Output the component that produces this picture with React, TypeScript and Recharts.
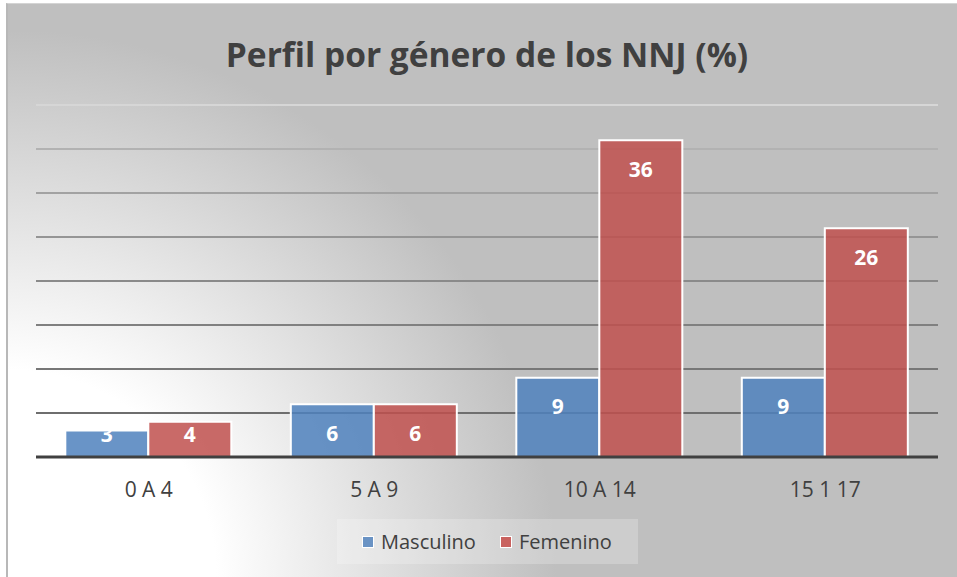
import React from 'react';
import { BarChart, Bar, XAxis, YAxis, CartesianGrid, Legend, LabelList } from 'recharts';

const categories = ['0 A 4', '5 A 9', '10 A 14', '15 1 17'];
const masculino = [3, 6, 9, 9];
const femenino = [4, 6, 36, 26];
const yTicks = [0, 5, 10, 15, 20, 25, 30, 35, 40];
const seriesNames = ['Masculino', 'Femenino'];

const data = categories.map((c, i) => ({ name: c, Masculino: masculino[i], Femenino: femenino[i] }));

const FONT = '"Open Sans", "Noto Sans", sans-serif';
const BLUE = '#4f81bd';
const RED = '#c0504d';
const BASE_Y = 454;

const gridColors: Record<number, string> = {
  0: '#d6d6d6',
  1: '#b2b2b2',
  2: '#a2a2a2',
  3: '#959595',
  4: '#8a8a8a',
  5: '#808080',
  6: '#777777',
  7: '#6e6e6e',
};

const renderGridLine = (props: any) => {
  const { x1, x2, y1, y2 } = props;
  if (Math.abs(y1 - BASE_Y) < 2) return <g key={props.key} />;
  const idx = Math.round((y1 - 102) / 44);
  const color = gridColors[idx] ?? '#888';
  return <line key={props.key} x1={x1} x2={x2} y1={y1} y2={y2} stroke={color} strokeWidth={2.2} />;
};

const renderLabel = (props: any) => {
  const { x, y, width, value } = props;
  const cy = Math.min(y + 29, BASE_Y - 23);
  return (
    <text x={x + width / 2} y={cy + 7.5} textAnchor="middle" fill="#ffffff" fontFamily={FONT} fontWeight={700} fontSize={21}>
      {value}
    </text>
  );
};

const renderTick = (props: any) => {
  const { x, y, payload } = props;
  return (
    <text x={x} y={y + 40} textAnchor="middle" fill="#404040" fontFamily={FONT} fontSize={21}>
      {payload.value}
    </text>
  );
};

const renderLegend = () => (
  <div
    style={{
      width: 301,
      height: 45,
      background: 'rgba(255,255,255,0.22)',
      display: 'flex',
      alignItems: 'center',
      fontFamily: FONT,
      fontSize: 20,
      color: '#404040',
      boxSizing: 'border-box',
      paddingLeft: 25,
    }}
  >
    {seriesNames.map((n, i) => (
      <div key={n} style={{ display: 'flex', alignItems: 'center', marginRight: i === 0 ? 24 : 0 }}>
        <div
          style={{
            width: 10,
            height: 10,
            background: i === 0 ? '#6a93c4' : '#c9625f',
            border: '1.5px solid #fff',
            marginRight: 7,
          }}
        />
        <span>{n}</span>
      </div>
    ))}
  </div>
);

export default function App() {
  return (
    <div
      style={{
        position: 'absolute',
        left: 6,
        top: 3,
        width: 960,
        height: 580,
        borderLeft: '2px solid #b8b8b8',
        borderTop: '1px solid #d4d4d4',
        boxSizing: 'border-box',
        background: 'radial-gradient(circle 548px at 0px 574px, #ffffff 38%, #bfbfbf 100%), #bfbfbf',
        overflow: 'hidden',
      }}
    >
      <div
        style={{
          position: 'absolute',
          left: 0,
          top: 26,
          width: 958,
          textAlign: 'center',
          fontFamily: FONT,
          fontWeight: 700,
          fontSize: 33.5,
          color: '#404040',
          lineHeight: '48px',
        }}
      >
        Perfil por género de los NNJ (%)
      </div>
      <div style={{ position: 'absolute', left: -2, top: -1 }}>
        <BarChart
          width={960}
          height={574}
          data={data}
          margin={{ top: 102, right: 28, left: 30, bottom: 45 }}
          barCategoryGap="13%"
          barGap={0}
        >
          <CartesianGrid vertical={false} horizontal={renderGridLine} />
          <YAxis hide domain={[0, 40]} ticks={yTicks} interval={0} />
          <XAxis
            dataKey="name"
            height={30}
            axisLine={{ stroke: '#404040', strokeWidth: 3 }}
            tickLine={false}
            tickSize={0}
            tickMargin={0}
            tick={renderTick}
            interval={0}
          />
          <Legend
            content={renderLegend}
            wrapperStyle={{ position: 'absolute', left: 331, top: 516, width: 301, height: 45 }}
          />
          <Bar dataKey="Masculino" fill={BLUE} fillOpacity={0.85} stroke="#ffffff" strokeWidth={2} isAnimationActive={false}>
            <LabelList dataKey="Masculino" content={renderLabel} />
          </Bar>
          <Bar dataKey="Femenino" fill={RED} fillOpacity={0.85} stroke="#ffffff" strokeWidth={2} isAnimationActive={false}>
            <LabelList dataKey="Femenino" content={renderLabel} />
          </Bar>
        </BarChart>
      </div>
    </div>
  );
}
